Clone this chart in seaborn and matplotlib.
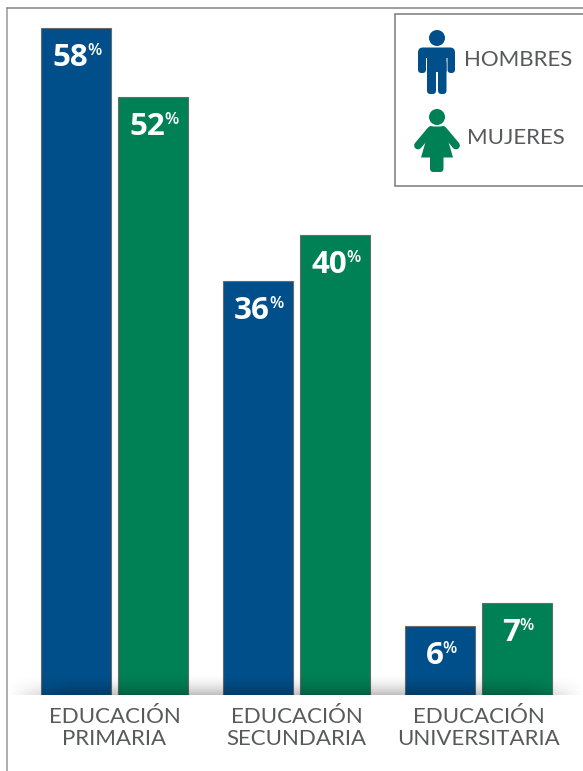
import numpy as np
import pandas as pd
import matplotlib
matplotlib.use("Agg")
import matplotlib.pyplot as plt
from matplotlib.patches import Circle, FancyBboxPatch, Polygon, Rectangle
from matplotlib.lines import Line2D
import seaborn as sns

# datos
categorias = ["EDUCACIÓN\nPRIMARIA", "EDUCACIÓN\nSECUNDARIA", "EDUCACIÓN\nUNIVERSITARIA"]
hombres = [58, 36, 6]
mujeres = [52, 40, 8]  # la barra de universitaria mide 8 aunque la etiqueta dice 7
etiquetas_hombres = ["58", "36", "6"]
etiquetas_mujeres = ["52", "40", "7"]

AZUL = "#004f8a"
VERDE = "#008055"
GRIS = "#58595b"
W, H = 583, 771
BASE = 695       # y en pixeles de la linea base
PX_POR_UNIDAD = 11.5
PASO = 182

sns.set_style("white")
plt.rcParams["font.family"] = ["Lato", "DejaVu Sans"]

df = pd.DataFrame({
    "categoria": categorias * 2,
    "sexo": ["HOMBRES"] * 3 + ["MUJERES"] * 3,
    "valor": hombres + mujeres,
})

fig = plt.figure(figsize=(W / 100, H / 100), dpi=100)
ax = fig.add_axes([0, (H - BASE) / H, 1, BASE / H])
sns.barplot(data=df, x="categoria", y="valor", hue="sexo",
            palette={"HOMBRES": AZUL, "MUJERES": VERDE}, saturation=1,
            width=0.846, gap=0.09, edgecolor="#6a6a6a", linewidth=0.8,
            legend=False, ax=ax)
ax.set_xlim(-114.5 / PASO, (W - 114.5) / PASO)
ax.set_ylim(0, BASE / PX_POR_UNIDAD)
ax.patch.set_alpha(0)
sns.despine(ax=ax, left=True, bottom=True)
ax.set_xlabel("")
ax.set_ylabel("")
ax.set_yticks([])
ax.tick_params(axis="x", length=0, pad=8.5, labelsize=16, labelcolor=GRIS)
for t in ax.get_xticklabels():
    t.set_linespacing(1.12)

# etiquetas de valor
for cont, textos in zip(ax.containers, [etiquetas_hombres, etiquetas_mujeres]):
    for barra, txt in zip(cont, textos):
        cx = barra.get_x() + barra.get_width() / 2
        top = barra.get_height()
        dx = (8.5 * len(txt) - 6.5 + 1.5) * 0.72
        ax.annotate(txt, (cx, top), xytext=(dx, -30 * 0.72), textcoords="offset points",
                    ha="right", va="center", color="white", fontsize=22.5,
                    fontweight="bold", family="Open Sans")
        ax.annotate("%", (cx, top), xytext=(dx - 0.5, -23 * 0.72), textcoords="offset points",
                    ha="left", va="center", color="white", fontsize=12,
                    fontweight="semibold", family="Open Sans")

# capa en pixeles para marco, sombra y leyenda
capa = fig.add_axes([0, 0, 1, 1])
capa.set_xlim(0, W)
capa.set_ylim(H, 0)
capa.axis("off")
capa.patch.set_alpha(0)

# sombra sobre la linea base
alto = np.linspace(0, 1, 24) ** 2
ancho = np.clip(np.minimum(np.arange(W) - 8, W - np.arange(W)) / 60, 0, 1)
sombra = np.zeros((24, W, 4))
sombra[..., 3] = 0.25 * np.outer(alto, ancho)
capa.imshow(sombra, extent=(0, W, BASE, BASE - 24), aspect="auto", zorder=1)
capa.set_xlim(0, W)
capa.set_ylim(H, 0)

# marco
capa.add_line(Line2D([7, 7], [8, H], color="#a0a0a0", lw=1.2))
capa.add_line(Line2D([7, W], [8, 8], color="#8c8c8c", lw=1.2))

# recuadro de leyenda
capa.add_patch(Rectangle((394.5, 14), 200, 172, fc="white", ec="#7a7a7a", lw=1.1, zorder=2))


def redondeado(x0, y0, x1, y1, color, r=3.5):
    capa.add_patch(FancyBboxPatch((x0 + r, y0 + r), x1 - x0 - 2 * r, y1 - y0 - 2 * r,
                                  boxstyle=f"round,pad={r},rounding_size={r}",
                                  fc=color, ec="none", zorder=3))


# icono hombre
capa.add_patch(Circle((437, 38), 8, fc=AZUL, ec="none", zorder=3))
redondeado(418, 47.5, 455, 58, AZUL, r=5)
redondeado(418, 52, 426, 73, AZUL)
redondeado(447.5, 52, 455, 73, AZUL)
redondeado(427, 50, 446.5, 72, AZUL, r=1)
redondeado(427, 60, 436, 94, AZUL)
redondeado(438, 60, 446.5, 94, AZUL)

# icono mujer
capa.add_patch(Circle((437, 117), 8, fc=VERDE, ec="none", zorder=3))
capa.add_patch(Polygon([(430, 126.5), (444, 126.5), (453, 157.5), (421, 157.5)],
                       closed=True, fc=VERDE, ec="none", zorder=3))
for x_hombro, x_mano in [(431, 418), (443, 456)]:
    capa.add_line(Line2D([x_hombro, x_mano], [130, 145.5], color=VERDE, lw=5.6,
                         solid_capstyle="round", zorder=3))
redondeado(430, 150, 443.5, 172, VERDE)

capa.text(464, 59.5, "HOMBRES", color=GRIS, fontsize=16, va="center", ha="left", zorder=4)
capa.text(467, 138.5, "MUJERES", color=GRIS, fontsize=16, va="center", ha="left", zorder=4)

fig.savefig("out.png", dpi=100)
